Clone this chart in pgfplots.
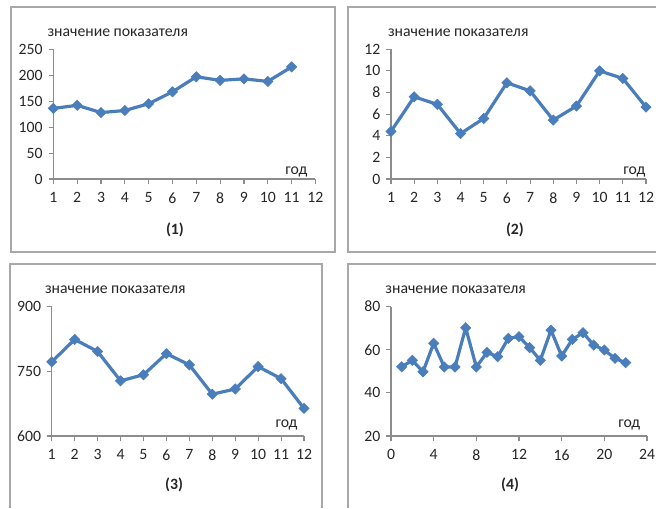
\documentclass[border=0pt]{standalone}
\usepackage{fontspec}
\setmainfont{Carlito}
\usepackage{pgfplots}
\pgfplotsset{compat=1.18}

\definecolor{lineblue}{HTML}{4A7EBB}
\definecolor{axgray}{HTML}{8C8C8C}
\definecolor{framegray}{HTML}{A8A8A8}
\newcommand{\fs}{\fontsize{11.8}{13}\selectfont}

\tikzset{lbl/.style={font=\fs, text=black!85}}
\pgfplotsset{
  panel/.style={
    scale only axis,
    anchor=south west,
    clip=false,
    axis x line*=bottom,
    axis y line*=left,
    axis line style={draw=axgray, line width=0.8pt, -},
    every tick/.style={draw=axgray, line width=0.8pt},
    tick align=outside,
    major tick length=3.5pt,
    tick label style={font=\fs, text=black!85},
    xticklabel style={yshift=-3pt},
    yticklabel style={xshift=-1pt},
    /pgf/number format/assume math mode=true,
  },
  ser/.style={
    color=lineblue, line width=2.4pt, mark=square*,
    mark size=2.7pt, mark options={rotate=45, solid, fill=lineblue, line width=0.5pt}
  },
}

\begin{document}
\begin{tikzpicture}
\useasboundingbox (0,0) rectangle (492pt,381pt);
% frames
\draw[framegray, line width=1pt] (8.25pt,192pt) rectangle (251.25pt,375.75pt);
\draw[framegray, line width=1pt] (492pt,375.75pt) -- (261pt,375.75pt) -- (261pt,192pt) -- (492pt,192pt);
\draw[framegray, line width=1pt] (7.5pt,0pt) -- (7.5pt,183pt) -- (241.5pt,183pt) -- (241.5pt,0pt);
\draw[framegray, line width=1pt] (261pt,0pt) -- (261pt,183pt) -- (492pt,183pt);

% (1)
\begin{axis}[panel, at={(40pt,246.75pt)}, width=196.6pt, height=97.3pt,
  xmin=1, xmax=12, xtick={1,...,12}, ymin=0, ymax=250, ytick={0,50,...,250}]
\addplot[ser] coordinates {(1,136) (2,142) (3,128) (4,132) (5,145) (6,168) (7,197) (8,190) (9,193) (10,188) (11,216)};
\node[lbl, anchor=west] at (rel axis cs:-0.04,1.126) {значение показателя};
\node[lbl, anchor=east] at (rel axis cs:0.987,0.054) {год};
\node[lbl, font=\fs\bfseries] at (rel axis cs:0.464,-0.393) {(1)};
\end{axis}

% (2)
\begin{axis}[panel, at={(293.25pt,246.75pt)}, width=191.25pt, height=97.3pt,
  xmin=1, xmax=12, xtick={1,...,12}, ymin=0, ymax=12, ytick={0,2,...,12}]
\addplot[ser] coordinates {(1,4.4) (2,7.6) (3,6.9) (4,4.2) (5,5.6) (6,8.9) (7,8.15) (8,5.45) (9,6.75) (10,10.0) (11,9.3) (12,6.65)};
\node[lbl, anchor=west] at (rel axis cs:-0.03,1.126) {значение показателя};
\node[lbl, anchor=east] at (rel axis cs:1.016,0.054) {год};
\node[lbl, font=\fs\bfseries] at (rel axis cs:0.486,-0.393) {(2)};
\end{axis}

% (3)
\begin{axis}[panel, at={(38.8pt,54pt)}, width=189.2pt, height=97pt,
  xmin=1, xmax=12, xtick={1,...,12}, ymin=600, ymax=900, ytick={600,750,900}]
\addplot[ser] coordinates {(1,772) (2,824) (3,796) (4,728) (5,742) (6,791) (7,765) (8,697) (9,709) (10,761) (11,733) (12,664)};
\node[lbl, anchor=west] at (rel axis cs:-0.045,1.129) {значение показателя};
\node[lbl, anchor=east] at (rel axis cs:0.993,0.085) {год};
\node[lbl, font=\fs\bfseries] at (rel axis cs:0.485,-0.379) {(3)};
\end{axis}

% (4)
\begin{axis}[panel, at={(293.25pt,54pt)}, width=192pt, height=97pt,
  xmin=0, xmax=24, xtick={0,4,...,24}, ymin=20, ymax=80, ytick={20,40,...,80}]
\addplot[ser] coordinates {(1,52.1) (2,55.1) (3,49.8) (4,63.0) (5,52) (6,52) (7,70.2) (8,52) (9,58.8) (10,56.8) (11,65.3) (12,66.1) (13,61) (14,55.1) (15,69.1) (16,57.1) (17,64.8) (18,67.9) (19,62.2) (20,59.9) (21,56.0) (22,54.0)};
\node[lbl, anchor=west] at (rel axis cs:-0.04,1.129) {значение показателя};
\node[lbl, anchor=east] at (rel axis cs:0.992,0.085) {год};
\node[lbl, font=\fs\bfseries] at (rel axis cs:0.465,-0.379) {(4)};
\end{axis}
\end{tikzpicture}
\end{document}
